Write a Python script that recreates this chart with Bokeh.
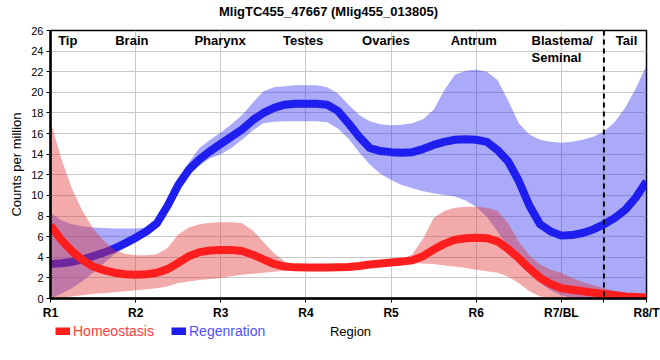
from bokeh.plotting import figure
from bokeh.layouts import column
from bokeh.models import (Range1d, FixedTicker, Span, Legend, LegendItem,
                          ColumnDataSource, Label)
from bokeh.core.properties import value
from bokeh.embed import file_html
from bokeh.resources import INLINE

# ---------------- data ----------------
title_text = "MligTC455_47667 (Mlig455_013805)"
x_axis_title = "Region"
y_axis_title = "Counts per million"
tick_positions = [1, 2, 3, 4, 5, 6, 7, 8]
tick_labels = ["R1", "R2", "R3", "R4", "R5", "R6", "R7/BL", "R8/T"]
y_ticks = [0, 2, 4, 6, 8, 10, 12, 14, 16, 18, 20, 22, 24, 26]
region_names = ["Tip", "Brain", "Pharynx", "Testes", "Ovaries", "Antrum",
                "Blastema/\nSeminal", "Tail"]
region_label_x = [1.09, 1.76, 2.69, 3.73, 4.66, 5.70, 6.65, 7.64]
boundary_x = 7.5
series_names = ["Homeostasis", "Regenration"]

x_pos = [1.0, 1.125, 1.25, 1.375, 1.5, 1.625, 1.75, 1.875,
         2.0, 2.125, 2.25, 2.375, 2.5, 2.625, 2.75, 2.875,
         3.0, 3.125, 3.25, 3.375, 3.5, 3.625, 3.75, 3.875,
         4.0, 4.125, 4.25, 4.375, 4.5, 4.625, 4.75, 4.875,
         5.0, 5.125, 5.25, 5.375, 5.5, 5.625, 5.75, 5.875,
         6.0, 6.125, 6.25, 6.375, 6.5, 6.625, 6.75, 6.875,
         7.0, 7.125, 7.25, 7.375, 7.5, 7.625, 7.75, 7.875,
         8.0]

regen_mean = [3.35, 3.42, 3.55, 3.8, 4.1, 4.45, 4.85, 5.35,
              5.9, 6.5, 7.3, 9.0, 11.0, 12.5, 13.5, 14.3,
              15.0, 15.7, 16.4, 17.3, 18.0, 18.5, 18.8, 18.9,
              18.9, 18.9, 18.8, 18.2, 17.0, 15.7, 14.6, 14.3,
              14.2, 14.15, 14.2, 14.5, 14.9, 15.2, 15.4, 15.45,
              15.4, 15.2, 14.4, 13.3, 11.4, 9.0, 7.2, 6.5,
              6.1, 6.15, 6.35, 6.7, 7.2, 7.8, 8.6, 9.8,
              11.35]
regen_high = [8.3, 7.6, 7.2, 7.0, 6.9, 6.85, 6.8, 6.8,
              6.8, 6.9, 7.5, 9.4, 11.6, 13.2, 14.6, 15.4,
              16.1, 16.9, 17.8, 19.0, 20.1, 20.5, 20.6, 20.7,
              20.7, 20.7, 20.5, 19.9, 18.8, 17.8, 17.2, 16.9,
              16.8, 16.85, 17.0, 17.4, 18.3, 20.2, 21.7, 22.1,
              22.2, 22.0, 21.2, 19.2, 17.0, 15.9, 15.4, 15.2,
              15.1, 15.2, 15.4, 15.7, 16.2, 17.1, 18.5, 20.4,
              22.6]
regen_low = [0.0, 0.45, 1.0, 1.7, 2.5, 3.4, 4.3, 4.9,
             5.4, 6.1, 7.1, 8.6, 10.4, 11.9, 12.9, 13.6,
             14.0, 14.6, 15.4, 16.3, 17.0, 17.15, 17.2, 17.2,
             17.2, 17.2, 17.1, 16.5, 15.5, 14.2, 13.0, 12.1,
             11.5, 11.0, 10.7, 10.4, 10.2, 10.05, 9.9, 9.5,
             8.9, 7.9, 6.5, 5.0, 3.5, 2.4, 1.5, 0.8,
             0.3, 0.1, 0.0, 0.0, 0.0, 0.0, 0.0, 0.0,
             0.0]

homeo_mean = [7.1, 5.7, 4.6, 3.75, 3.1, 2.75, 2.5, 2.35,
              2.3, 2.35, 2.5, 2.85, 3.45, 4.1, 4.5, 4.65,
              4.7, 4.7, 4.6, 4.25, 3.8, 3.35, 3.1, 3.02,
              3.0, 3.0, 3.0, 3.02, 3.05, 3.15, 3.3, 3.4,
              3.5, 3.58, 3.7, 4.1, 4.75, 5.3, 5.7, 5.85,
              5.9, 5.85, 5.55, 4.8, 3.9, 2.9, 2.0, 1.4,
              1.0, 0.85, 0.7, 0.57, 0.45, 0.32, 0.2, 0.14,
              0.1]
homeo_high = [17.2, 13.6, 10.7, 8.5, 6.8, 5.6, 4.7, 4.35,
              4.2, 4.2, 4.3, 4.9, 6.2, 6.9, 7.2, 7.35,
              7.4, 7.4, 7.3, 6.6, 5.5, 4.4, 3.6, 3.25,
              3.1, 3.1, 3.1, 3.12, 3.15, 3.25, 3.4, 3.5,
              3.6, 3.8, 4.3, 5.8, 7.8, 8.5, 8.8, 8.9,
              8.9, 8.8, 8.5, 7.3, 5.5, 4.2, 3.3, 2.8,
              2.5, 2.0, 1.6, 1.3, 1.0, 0.75, 0.55, 0.35,
              0.2]
homeo_low = [0.0, 0.1, 0.2, 0.32, 0.45, 0.52, 0.6, 0.7,
             0.8, 0.9, 1.0, 1.2, 1.5, 1.65, 1.8, 1.9,
             2.0, 2.15, 2.3, 2.4, 2.5, 2.6, 2.7, 2.8,
             2.9, 2.92, 2.95, 2.97, 3.0, 3.1, 3.2, 3.3,
             3.4, 3.43, 3.45, 3.4, 3.35, 3.2, 3.1, 2.95,
             2.8, 2.65, 2.5, 2.1, 1.5, 0.7, 0.2, 0.1,
             0.05, 0.0, 0.0, 0.0, 0.0, 0.0, 0.0, 0.0,
             0.0]

# ---------------- styling ----------------
FONT = "Liberation Sans"
REGEN_BAND, REGEN_LINE, REGEN_TEXT = "#3434ee", "#1e1eee", "#5050ff"
HOMEO_BAND, HOMEO_LINE, HOMEO_TEXT = "#e03434", "#ff1e1e", "#ff3b3b"
LEFT = 50  # frames of the stacked figures are aligned at this offset


def strip(height):
    f = figure(width=660, height=height, x_range=Range1d(-2, -1),
               y_range=Range1d(0, 1), output_backend="svg",
               toolbar_location=None, x_axis_type=None, y_axis_type=None,
               min_border=0)
    f.outline_line_color = None
    f.xgrid.visible = False
    f.ygrid.visible = False
    return f


src = ColumnDataSource(dict(x=x_pos, rm=regen_mean, rh=regen_high, rl=regen_low,
                            hm=homeo_mean, hh=homeo_high, hl=homeo_low))

# ---------------- title strip ----------------
ptitle = strip(20)
ptitle.add_layout(Label(x=328 - LEFT, y=9, x_units="screen", y_units="screen",
                        text=title_text, text_font=FONT, text_font_size="13px",
                        text_font_style="bold", text_align="center",
                        text_baseline="middle", text_color="black"))

# ---------------- main plot ----------------
p = figure(width=660, height=302, x_range=Range1d(1, 8), y_range=Range1d(0, 26),
           output_backend="svg", toolbar_location=None,
           min_border_left=LEFT, min_border_right=14, min_border_top=10,
           min_border_bottom=24)

p.xaxis.ticker = FixedTicker(ticks=tick_positions + [boundary_x])
overrides = {t: lab for t, lab in zip(tick_positions, tick_labels)}
overrides[boundary_x] = ""
p.xaxis.major_label_overrides = overrides
p.xaxis.major_label_text_font_style = "bold"
p.xaxis.major_label_text_font_size = "12px"

p.yaxis.ticker = FixedTicker(ticks=y_ticks)
p.yaxis.major_label_text_font_size = "11px"
p.yaxis.axis_label = y_axis_title
p.yaxis.axis_label_text_font_size = "13px"
p.yaxis.axis_label_text_font_style = "normal"
p.yaxis.axis_label_standoff = 4

for ax in (p.xaxis, p.yaxis):
    ax.axis_line_color = "black"
    ax.axis_line_width = 2.5
    ax.major_tick_line_color = "black"
    ax.major_tick_out = 4
    ax.major_tick_in = 0
    ax.minor_tick_line_color = None
    ax.major_label_text_font = FONT
    ax.major_label_text_color = "black"
    ax.axis_label_text_font = FONT
    ax.axis_label_text_color = "black"
    ax.major_label_standoff = 3

p.xgrid.grid_line_color = "#c8c8c8"
p.ygrid.grid_line_color = "#c8c8c8"
p.outline_line_color = "black"
p.outline_line_width = 1.5
p.outline_line_alpha = 1.0

p.varea(x="x", y1="rl", y2="rh", source=src, fill_color=REGEN_BAND, fill_alpha=0.42)
p.line(x="x", y="rm", source=src, line_color=REGEN_LINE, line_width=8,
       line_join="round")
p.varea(x="x", y1="hl", y2="hh", source=src, fill_color=HOMEO_BAND, fill_alpha=0.42)
p.line(x="x", y="hm", source=src, line_color=HOMEO_LINE, line_width=8,
       line_join="round")

p.add_layout(Span(location=boundary_x, dimension="height", line_color="black",
                  line_width=2, line_dash="5 4"))

p.text(x=region_label_x, y=25.75, text=region_names, text_font=value(FONT),
       text_font_style="bold", text_font_size="13px", text_baseline="top",
       text_align="left", text_color="black", text_line_height=1.1)

# ---------------- legend strip with x-axis title ----------------
# legend swatches come from the same series, drawn outside this strip's ranges
p2 = strip(38)
leg_h = p2.line(x="x", y="hm", source=src, line_color=HOMEO_LINE, line_width=8)
leg_r = p2.line(x="x", y="rm", source=src, line_color=REGEN_LINE, line_width=8)
leg_x = [55 - LEFT, 171 - LEFT]
for name, rend, col, lx in zip(series_names, [leg_h, leg_r],
                               [HOMEO_TEXT, REGEN_TEXT], leg_x):
    lg = Legend(items=[LegendItem(label=name, renderers=[rend])],
                location=(lx, 21), orientation="horizontal",
                label_text_color=col, label_text_font=FONT,
                label_text_font_size="14px", glyph_width=15, glyph_height=8,
                label_height=16, label_standoff=3, padding=0, margin=0,
                spacing=0, border_line_color=None, background_fill_alpha=0)
    p2.add_layout(lg, "center")

p2.add_layout(Label(x=350 - LEFT, y=29, x_units="screen", y_units="screen",
                    text=x_axis_title, text_font=FONT, text_font_size="13px",
                    text_align="center", text_baseline="middle",
                    text_color="black"))

layout = column(ptitle, p, p2, spacing=0)
open("out.html", "w").write(file_html(layout, INLINE))
